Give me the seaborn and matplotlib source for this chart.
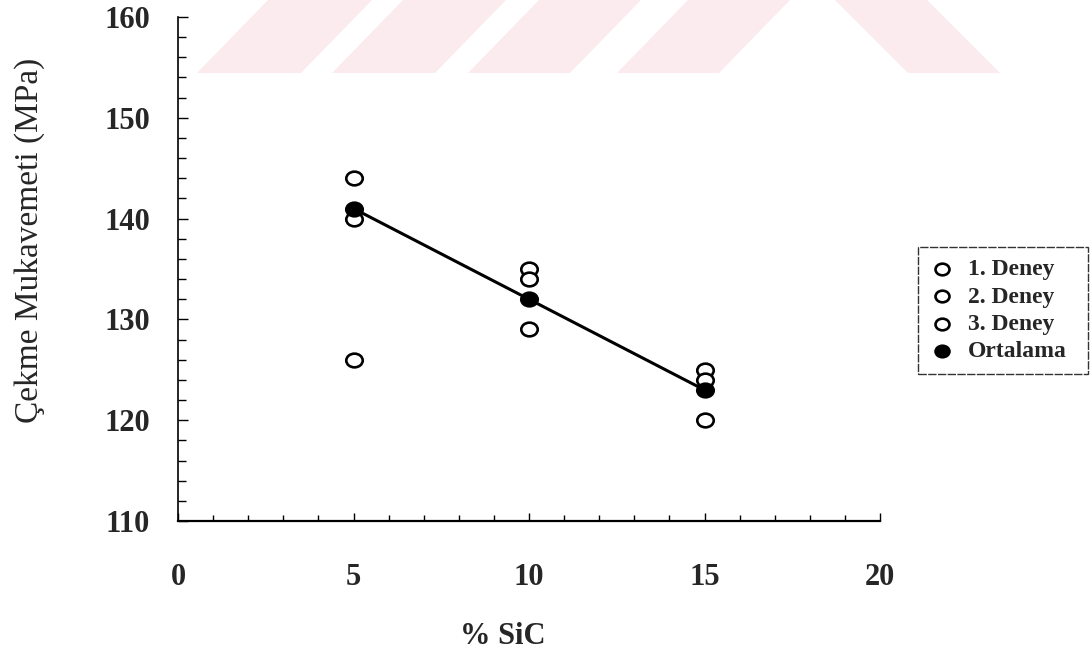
import matplotlib
matplotlib.use("Agg")
import matplotlib.pyplot as plt
from matplotlib.patches import Polygon
from matplotlib.path import Path
from matplotlib.transforms import Affine2D
from matplotlib.ticker import MultipleLocator
import numpy as np
import pandas as pd
import seaborn as sns

# Tensile strength of the composite vs. SiC content
sic = [5, 10, 15]
deney_1 = [144, 135, 125]
deney_2 = [140, 134, 124]
deney_3 = [126, 129, 120]
ortalama = [141, 132, 123]

series_names = ["1. Deney", "2. Deney", "3. Deney"]
x_label = "% SiC"
y_label = "Çekme Mukavemeti (MPa)"

sns.set_theme(style="white")
plt.rcParams["font.family"] = ["Liberation Serif", "DejaVu Serif"]

W, H = 1092, 654
fig = plt.figure(figsize=(W / 100, H / 100), dpi=100)
fig.patch.set_facecolor("white")

# light pink stripes across the top of the page
band_color = "#fcebee"
def px(xp, yp):
    return (xp / W, 1 - yp / H)
stripes = [(197, 301), (332, 435), (468, 570), (617, 719)]
for a, b in stripes:
    poly = Polygon([px(a, 73), px(b, 73), px(b + 71, 0), px(a + 71, 0)],
                   closed=True, transform=fig.transFigure, facecolor=band_color,
                   edgecolor="none", zorder=0)
    fig.patches.append(poly)
fig.patches.append(Polygon([px(835, 0), px(927, 0), px(1000, 73), px(908, 73)],
                           closed=True, transform=fig.transFigure,
                           facecolor=band_color, edgecolor="none", zorder=0))

# slightly wide oval marker
oval = Path(Affine2D().scale(1.2, 1.0).transform(Path.unit_circle().vertices),
            Path.unit_circle().codes)

ax = fig.add_axes([178 / W, 1 - 521 / H, (880 - 178) / W, (521 - 17) / H])
ax.patch.set_alpha(0)

df = pd.DataFrame({
    "sic": sic * 3,
    "val": deney_1 + deney_2 + deney_3,
    "seri": sum([[n] * len(sic) for n in series_names], []),
})
mean_df = pd.DataFrame({"sic": sic, "val": ortalama})

sns.lineplot(data=mean_df, x="sic", y="val", color="black", lw=2.2, ax=ax,
             zorder=2, legend=False)
for name in series_names:
    sub = df[df["seri"] == name]
    sns.scatterplot(data=sub, x="sic", y="val", marker=oval, s=140,
                    facecolor="white", edgecolor="black", linewidth=1.9,
                    ax=ax, zorder=3, label=name)
sns.scatterplot(data=mean_df, x="sic", y="val", marker=oval, s=150,
                color="black", edgecolor="black", linewidth=1.5,
                ax=ax, zorder=4, label="Ortalama")

ax.set_xlim(0, 20)
ax.set_ylim(110, 160)
ax.xaxis.set_major_locator(MultipleLocator(5))
ax.xaxis.set_minor_locator(MultipleLocator(1))
ax.yaxis.set_major_locator(MultipleLocator(10))
ax.yaxis.set_minor_locator(MultipleLocator(2))

for side in ["top", "right"]:
    ax.spines[side].set_visible(False)
ax.spines["left"].set_linewidth(1.2)
ax.spines["bottom"].set_linewidth(1.6)
for s in ["left", "bottom"]:
    ax.spines[s].set_color("black")

ax.tick_params(axis="x", which="both", direction="in", color="black",
               width=1.0, pad=30, labelsize=22)
ax.tick_params(axis="x", which="major", length=6, bottom=True)
ax.tick_params(axis="x", which="minor", length=4, bottom=True)
ax.tick_params(axis="y", which="both", direction="in", color="black",
               width=1.0, pad=20, labelsize=22, left=True)
ax.tick_params(axis="y", which="major", length=7)
ax.tick_params(axis="y", which="minor", length=6)
for lab in ax.get_xticklabels() + ax.get_yticklabels():
    lab.set_fontweight("bold")

ax.set_xlabel(x_label, fontsize=22, fontweight="bold")
ax.set_ylabel(y_label, fontsize=24)
ax.xaxis.set_label_coords(0.463, -0.20)
ax.yaxis.set_label_coords(-0.19, 0.557)

lx0, ly0, lx1, ly1 = 918, 247, 1088, 373
leg = ax.legend(loc="upper left",
                bbox_to_anchor=(lx0 / W, 1 - ly1 / H, (lx1 - lx0) / W, (ly1 - ly0) / H),
                bbox_transform=fig.transFigure, mode="expand", borderaxespad=0,
                frameon=True, fancybox=False,
                prop={"family": "Liberation Serif", "weight": "bold", "size": 17},
                handletextpad=0.6, labelspacing=0.24, borderpad=0.5,
                handlelength=1.0, markerscale=0.85)
leg.get_frame().set_edgecolor("black")
leg.get_frame().set_linewidth(1.0)
leg.get_frame().set_linestyle((0, (6, 1)))

fig.savefig("out.png", dpi=100, facecolor="white")
